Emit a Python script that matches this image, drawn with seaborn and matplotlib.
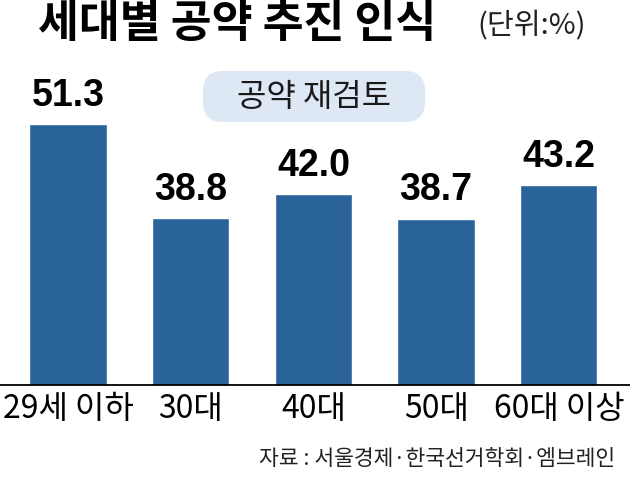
import matplotlib
matplotlib.use("Agg")
import matplotlib.pyplot as plt
from matplotlib.patches import FancyBboxPatch
import seaborn as sns
import pandas as pd

categories = ["29세 이하", "30대", "40대", "50대", "60대 이상"]
values = [51.3, 38.8, 42.0, 38.7, 43.2]
title = "세대별 공약 추진 인식"
unit = "(단위:%)"
badge = "공약 재검토"
source = "자료 : 서울경제·한국선거학회·엠브레인"

sns.set_theme(style="white")
plt.rcParams["font.family"] = ["Noto Sans CJK KR", "DejaVu Sans"]

BAR = "#2a629a"
CJK = ["Noto Sans CJK KR", "DejaVu Sans"]

W, H = 630, 481
fig = plt.figure(figsize=(W / 100, H / 100), dpi=100)
fig.patch.set_facecolor("white")

ax = fig.add_axes([0, 95 / H, 1, 386 / H])
df = pd.DataFrame({"cat": categories, "val": values})
sns.barplot(data=df, x="cat", y="val", color=BAR, saturation=1, width=0.63, ax=ax)
ax.set_ylim(16.4, 68.1)
ax.set_xlim(-0.554, 4.58)
ax.set_xlabel("")
ax.set_ylabel("")
ax.set_yticks([])
for s in ["top", "left", "right"]:
    ax.spines[s].set_visible(False)
ax.spines["bottom"].set_color("black")
ax.spines["bottom"].set_linewidth(1.3)
ax.tick_params(axis="x", length=0, pad=5)
ax.set_xticks(range(len(categories)))
ax.set_xticklabels(categories, fontsize=23, family=CJK, color="black")
ax.patch.set_alpha(0)

ax.bar_label(ax.containers[0], fmt="%.1f", padding=8, fontsize=27,
             fontweight="bold", family=["Liberation Sans", "DejaVu Sans"],
             color="black")

ov = fig.add_axes([0, 0, 1, 1])
ov.set_xlim(0, W)
ov.set_ylim(H, 0)
ov.axis("off")
ov.patch.set_alpha(0)

ov.text(38, 24, title, fontsize=32, fontweight="black", ha="left", va="center",
        color="black", family=CJK)
ov.text(477, 26, unit, fontsize=21, ha="left", va="center", color="#222222",
        family=CJK, fontweight="light")

box = FancyBboxPatch((203, 72), 222, 51, boxstyle="round,pad=0,rounding_size=20",
                     fc="#dde8f4", ec="none")
ov.add_patch(box)
ov.text(314, 97, badge, fontsize=23, ha="center", va="center", color="#1a1a1a",
        family=CJK)

ov.text(615, 459, source, fontsize=15.5, ha="right", va="center", color="#222222",
        family=CJK)

fig.savefig("out.png", dpi=100, facecolor="white")
